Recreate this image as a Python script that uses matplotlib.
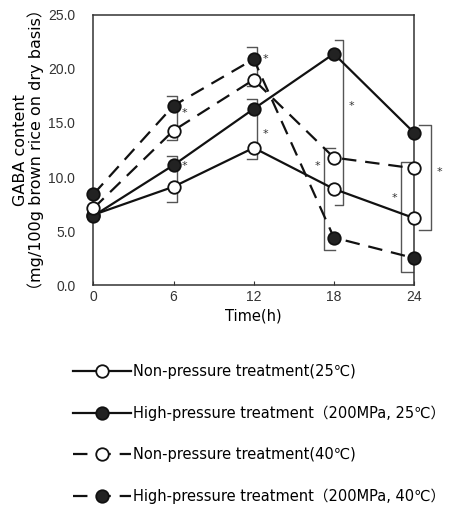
import matplotlib
matplotlib.use("Agg")
import matplotlib.pyplot as plt

plt.rcParams['font.family'] = ['DejaVu Sans', 'Noto Sans CJK JP']

times = [0, 6, 12, 18, 24]
np_25 = [6.5, 9.1, 12.7, 8.9, 6.2]
hp_25 = [6.4, 11.1, 16.3, 21.4, 14.1]
np_40 = [7.1, 14.3, 19.0, 11.8, 10.8]
hp_40 = [8.4, 16.6, 20.9, 4.4, 2.5]

labels = ["Non-pressure treatment(25\u2103)",
          "High-pressure treatment\uff08200MPa, 25\u2103\uff09",
          "Non-pressure treatment(40\u2103)",
          "High-pressure treatment\uff08200MPa, 40\u2103\uff09"]

# significance brackets: time, low, high, side, asterisk level
br_time = [6, 6, 12, 12, 18, 18, 24, 24]
br_low = [13.4, 7.7, 18.4, 11.7, 7.4, 3.25, 5.1, 1.2]
br_high = [17.5, 11.9, 22.0, 17.2, 22.7, 12.7, 14.8, 11.4]
br_side = ['r', 'r', 'r', 'r', 'r', 'l', 'r', 'l']
star_y = [15.9, 11.0, 20.9, 14.0, 16.6, 11.0, 10.5, 8.1]


def bracket(ax, t, lo, hi, side, sy):
    if side == 'r':
        xb = t + (0.25 if t < 18 else (0.7 if t == 18 else 1.3))
        xt = t - 0.5 if t < 18 else (t + 0.1 if t == 18 else t + 0.4)
        xs = xb + 0.6
    else:
        xb = t - (0.75 if t == 18 else 1.0)
        xt = t + 0.1 if t == 18 else t - 0.1
        xs = xb - 0.5
    ax.plot([xt, xb, xb, xt], [hi, hi, lo, lo], color='#555555', lw=1.0,
            clip_on=False, zorder=1)
    ax.text(xs, sy, '*', fontsize=8, ha='center', va='center',
            color='#333333', family='DejaVu Sans')


fig = plt.figure(figsize=(4.51, 5.11), dpi=100)
ax = fig.add_axes([0.207, 0.442, 0.711, 0.529])

dash = (0, (6.5, 4))
series = [(np_25, '-', 'white'), (hp_25, '-', '#222222'),
          (np_40, dash, 'white'), (hp_40, dash, '#222222')]
handles = []
for vals, ls, fc in series:
    h, = ax.plot(times, vals, linestyle=ls, color='#111111', lw=1.6,
                 marker='o', markersize=9, markerfacecolor=fc,
                 markeredgecolor='#111111', markeredgewidth=1.3, zorder=3,
                 clip_on=False)
    handles.append(h)

for t, lo, hi, s, sy in zip(br_time, br_low, br_high, br_side, star_y):
    bracket(ax, t, lo, hi, s, sy)

ax.set_xlim(0, 24)
ax.set_ylim(0, 25)
ax.set_xticks(times)
ax.set_yticks([0, 5, 10, 15, 20, 25])
ax.set_yticklabels(['0.0', '5.0', '10.0', '15.0', '20.0', '25.0'])
ax.tick_params(direction='in', length=3, labelsize=10, colors='#333333')
ax.tick_params(axis='y', length=0, pad=13)
for lab in ax.get_xticklabels() + ax.get_yticklabels():
    lab.set_family('Liberation Sans')
for sp in ax.spines.values():
    sp.set_linewidth(1.1)
    sp.set_color('#333333')

ax.set_xlabel('Time(h)', fontsize=10.5, labelpad=3)
ax.set_ylabel('GABA content\n\uff08mg/100g brown rice on dry basis\uff09',
              fontsize=11.5, labelpad=3, linespacing=0.95)

fig.legend(handles, labels, loc='upper left', bbox_to_anchor=(0.161, 0.287),
           frameon=False, fontsize=10.5, handlelength=4.0, handletextpad=0.15,
           labelspacing=1.8, borderpad=0, borderaxespad=0, markerscale=1.0)

fig.savefig('out.png', dpi=100)
